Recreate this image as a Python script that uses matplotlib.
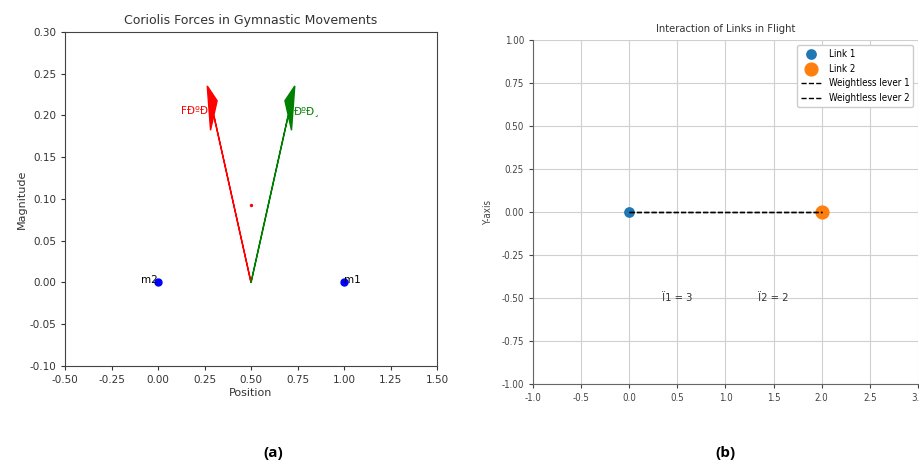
import matplotlib
matplotlib.use('Agg')
import matplotlib.pyplot as plt

# panel (a): two masses and the two force arrows
mass_x = [0.0, 1.0]
mass_y = [0.0, 0.0]
mass_labels = ['m2', 'm1']
pivot = (0.5, 0.0)
force_dx = [-0.2, 0.2]
force_dy = [0.2, 0.2]
force_colors = ['red', 'green']
force_labels = ['FÐºÐ', 'ÐºÐ¸']
center_dot = (0.5, 0.093)

# panel (b): link positions and lever annotations
link_x = [0.0, 2.0]
link_y = [0.0, 0.0]
link_labels = ['Link 1', 'Link 2']
link_sizes = [45, 85]
lever_labels = ['Weightless lever 1', 'Weightless lever 2']
note_x = [0.5, 1.5]
note_y = [-0.5, -0.5]
note_text = ['Ï1 = 3', 'Ï2 = 2']

fig = plt.figure(figsize=(9.2, 4.67), dpi=100)

# ===== (a) Coriolis forces =====
ax = fig.add_axes([0.0707, 0.2163, 0.4043, 0.7152])
ax.scatter(mass_x, mass_y, color='blue', s=25, zorder=3)
ax.text(mass_x[0], mass_y[0] - 0.003, mass_labels[0], ha='right', va='bottom', fontsize=7.5)
ax.text(mass_x[1], mass_y[1] - 0.003, mass_labels[1], ha='left', va='bottom', fontsize=7.5)

for dx, dy, c, lab in zip(force_dx, force_dy, force_colors, force_labels):
    ax.arrow(pivot[0], pivot[1], dx, dy, color=c, width=0.0008,
             head_width=0.05, head_length=0.05)
    sign = -1 if dx < 0 else 1
    ax.text(pivot[0] + dx + sign * 0.03, pivot[1] + dy + 0.005, lab, color=c,
            ha='right' if dx < 0 else 'left', va='center', fontsize=7.5)

ax.scatter([center_dot[0]], [center_dot[1]], color='red', s=2)

ax.set_xlim(-0.5, 1.5)
ax.set_ylim(-0.10, 0.30)
ax.set_xticks([-0.5, -0.25, 0, 0.25, 0.5, 0.75, 1.0, 1.25, 1.5])
ax.set_yticks([-0.10, -0.05, 0, 0.05, 0.10, 0.15, 0.20, 0.25, 0.30])
ax.xaxis.set_major_formatter(matplotlib.ticker.FormatStrFormatter('%.2f'))
ax.yaxis.set_major_formatter(matplotlib.ticker.FormatStrFormatter('%.2f'))
ax.tick_params(labelsize=7.5, length=3, colors='#333333')
ax.set_xlabel('Position', fontsize=8, color='#333333', labelpad=2)
ax.set_ylabel('Magnitude', fontsize=8, color='#333333', labelpad=2)
ax.set_title('Coriolis Forces in Gymnastic Movements', fontsize=9, color='#333333', pad=6)
for s in ax.spines.values():
    s.set_color('#444444')

# ===== (b) Interaction of links =====
cond = dict(family='DejaVu Sans', stretch='condensed')
bx = fig.add_axes([0.5793, 0.1777, 0.4185, 0.7366])
bx.grid(True, color='#d0d0d0', linewidth=0.8)
bx.set_axisbelow(True)
bx.plot([link_x[0], link_x[1]], [link_y[0], link_y[1]], 'k--', linewidth=1, label=lever_labels[0], zorder=2)
bx.plot([link_x[0], link_x[1]], [link_y[0], link_y[1]], 'k--', linewidth=1, label=lever_labels[1], zorder=2)
bx.scatter([link_x[0]], [link_y[0]], s=link_sizes[0], color='#1f77b4', label=link_labels[0], zorder=1)
bx.scatter([link_x[1]], [link_y[1]], s=link_sizes[1], color='#ff7f0e', label=link_labels[1], zorder=1)
for x, y, t in zip(note_x, note_y, note_text):
    bx.text(x, y, t, ha='center', va='center', fontsize=8, color='#333333', **cond)

bx.set_xlim(-1, 3)
bx.set_ylim(-1, 1)
bx.set_xticks([-1.0, -0.5, 0, 0.5, 1.0, 1.5, 2.0, 2.5, 3.0])
bx.set_yticks([-1.0, -0.75, -0.5, -0.25, 0, 0.25, 0.5, 0.75, 1.0])
bx.xaxis.set_major_formatter(matplotlib.ticker.FormatStrFormatter('%.1f'))
bx.yaxis.set_major_formatter(matplotlib.ticker.FormatStrFormatter('%.2f'))
bx.tick_params(labelsize=7, length=3, colors='#444444')
for lab in bx.get_xticklabels() + bx.get_yticklabels():
    lab.set_fontstretch('condensed')
bx.set_ylabel('Y-axis', fontsize=7, color='#444444', labelpad=6, **cond)
bx.set_title('Interaction of Links in Flight', fontsize=8, color='#333333', pad=6, **cond)
bx.spines['top'].set_visible(False)
bx.spines['right'].set_visible(False)
bx.spines['left'].set_color('#666666')
bx.spines['bottom'].set_color('#666666')

handles, labels = bx.get_legend_handles_labels()
order = [2, 3, 0, 1]
leg = bx.legend([handles[i] for i in order], [labels[i] for i in order], loc='upper right',
                prop=dict(size=7, stretch='condensed'), framealpha=1, edgecolor='#cccccc')

# panel captions
fig.text(0.297, 0.03, '(a)', ha='center', va='center', fontsize=11, fontweight='bold', family='Open Sans')
fig.text(0.788, 0.03, '(b)', ha='center', va='center', fontsize=11, fontweight='bold', family='Open Sans')

fig.savefig('out.png', dpi=100)
